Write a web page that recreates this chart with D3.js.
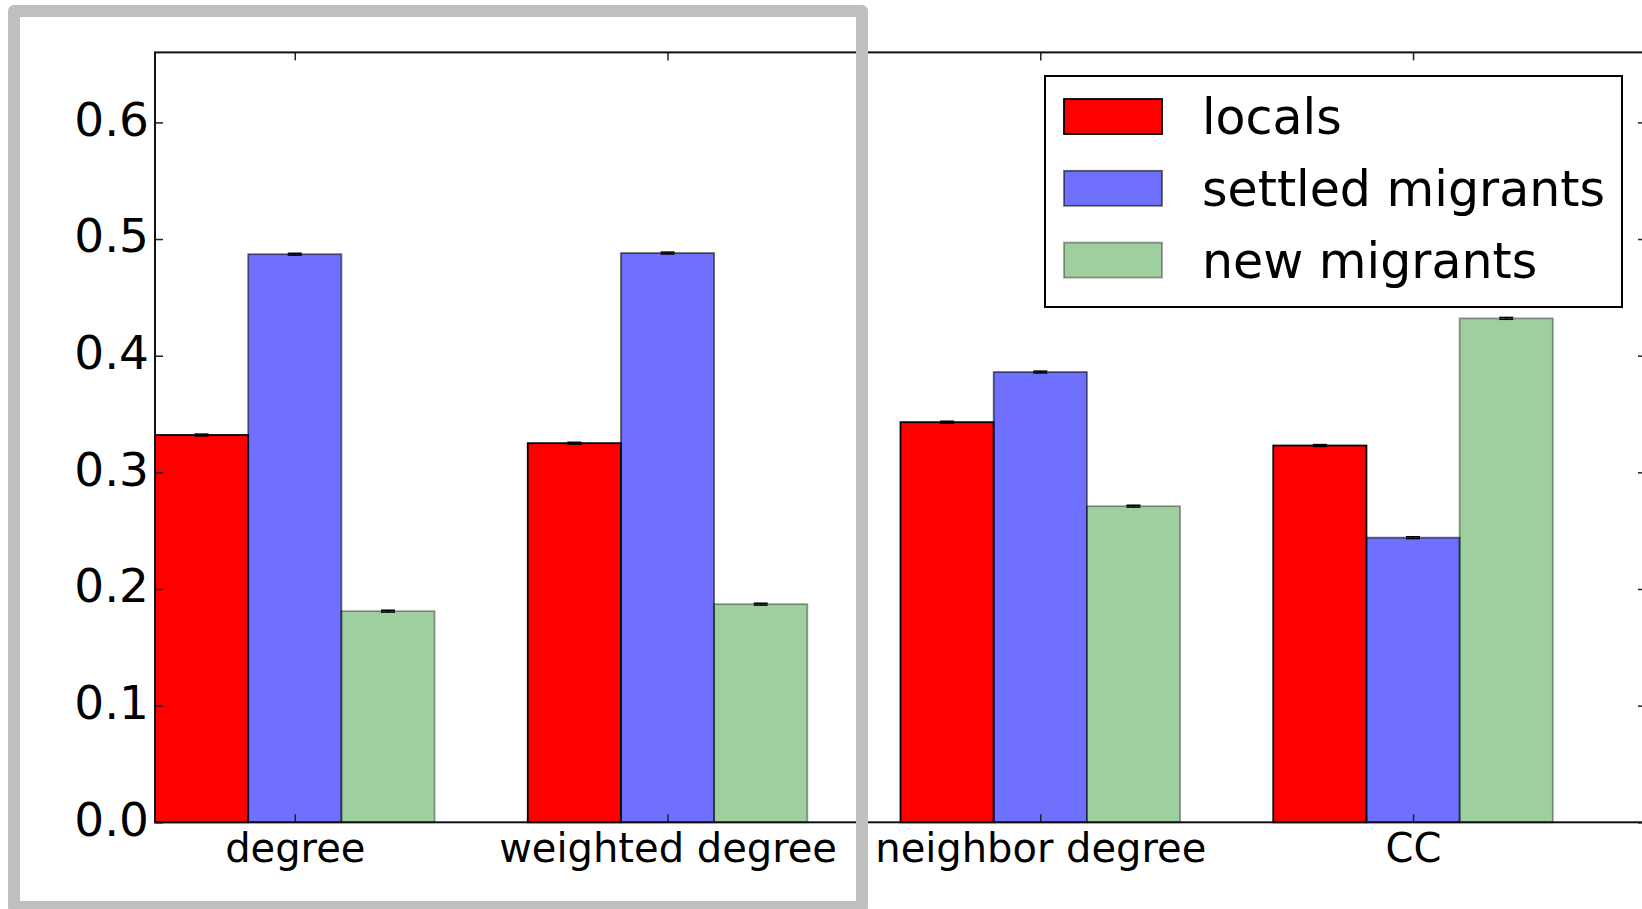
<!DOCTYPE html>
<html>
<head>
<meta charset="utf-8">
<script src="https://cdn.jsdelivr.net/npm/d3@7"></script>
<style>
  html, body { margin: 0; padding: 0; background: #fff; }
  svg { display: block; font-family: "DejaVu Sans", sans-serif; }
</style>
</head>
<body>
<svg id="chart" width="1642" height="909"></svg>
<script>
// Network measures per group
const categories = ["degree", "weighted degree", "neighbor degree", "CC"];
const seriesNames = ["locals", "settled migrants", "new migrants"];
const locals   = [0.332, 0.325, 0.343, 0.323];
const settled  = [0.487, 0.488, 0.386, 0.244];
const newMig   = [0.181, 0.187, 0.271, 0.432];
const errLocals  = [0.0008, 0.0008, 0.0008, 0.0008];
const errSettled = [0.0008, 0.0008, 0.0008, 0.0008];
const errNew     = [0.0008, 0.0008, 0.0008, 0.0008];
const yTicks = [0.0, 0.1, 0.2, 0.3, 0.4, 0.5, 0.6];

const series = [
  { name: seriesNames[0], values: locals,  errs: errLocals,  fill: "#ff0000", fillOpacity: 1,     stroke: "#000", strokeOpacity: 1 },
  { name: seriesNames[1], values: settled, errs: errSettled, fill: "#0000ff", fillOpacity: 0.56,  stroke: "#000", strokeOpacity: 0.56 },
  { name: seriesNames[2], values: newMig,  errs: errNew,     fill: "#008000", fillOpacity: 0.375, stroke: "#000", strokeOpacity: 0.375 }
];

const barW = 0.25;
const svg = d3.select("#chart");

const x = d3.scaleLinear().domain([0, 4]).range([155, 1646]);
const y = d3.scaleLinear().domain([0, 0.66]).range([822.3, 52.4]);

const plot = svg.append("g");

// bars
series.forEach((s, si) => {
  plot.selectAll(null)
    .data(s.values)
    .enter().append("rect")
    .attr("x", (d, i) => x(i + si * barW))
    .attr("width", x(barW) - x(0))
    .attr("y", d => y(d))
    .attr("height", d => y(0) - y(d))
    .attr("fill", s.fill)
    .attr("fill-opacity", s.fillOpacity)
    .attr("stroke", s.stroke)
    .attr("stroke-opacity", s.strokeOpacity)
    .attr("stroke-width", 1.8);
});

// error bars (caps)
series.forEach((s, si) => {
  const cx = i => x(i + si * barW + barW / 2);
  const g = plot.append("g").attr("stroke", "#000").attr("stroke-width", 1.5);
  s.values.forEach((v, i) => {
    const e = s.errs[i];
    g.append("line").attr("x1", cx(i)).attr("x2", cx(i)).attr("y1", y(v - e)).attr("y2", y(v + e));
    [v - e, v + e].forEach(t => {
      g.append("line").attr("x1", cx(i) - 7).attr("x2", cx(i) + 7).attr("y1", y(t)).attr("y2", y(t));
    });
  });
});

// axes
const tickPos = categories.map((c, i) => i + 1.5 * barW);

const yLeft = d3.axisLeft(y).tickValues(yTicks).tickFormat(d3.format(".1f")).tickSizeInner(-8).tickSizeOuter(0).tickPadding(6);
const gL = svg.append("g").attr("transform", `translate(${x(0)},0)`).call(yLeft);
gL.select(".domain").remove();
gL.selectAll("text").attr("font-size", 47).attr("font-family", "DejaVu Sans").attr("fill", "#000").attr("dy", "0.27em");

const yRight = d3.axisRight(y).tickValues(yTicks).tickFormat("").tickSizeInner(-8).tickSizeOuter(0);
const gR = svg.append("g").attr("transform", `translate(${x(4)},0)`).call(yRight);
gR.select(".domain").remove();

const xBottom = d3.axisBottom(x).tickValues(tickPos).tickFormat((d, i) => categories[i]).tickSizeInner(-8).tickSizeOuter(0).tickPadding(11);
const gB = svg.append("g").attr("transform", `translate(0,${y(0)})`).call(xBottom);
gB.select(".domain").remove();
gB.selectAll("text").attr("font-size", 40).attr("font-family", "DejaVu Sans").attr("fill", "#000");

const xTop = d3.axisTop(x).tickValues(tickPos).tickFormat("").tickSizeInner(-8).tickSizeOuter(0);
const gT = svg.append("g").attr("transform", `translate(0,${y(0.66)})`).call(xTop);
gT.select(".domain").remove();

svg.selectAll(".tick line").attr("stroke", "#222").attr("stroke-width", 1.5);

// spines
svg.append("rect")
  .attr("x", x(0)).attr("y", y(0.66))
  .attr("width", x(4) - x(0)).attr("height", y(0) - y(0.66))
  .attr("fill", "none").attr("stroke", "#111").attr("stroke-width", 2);

// legend
const legend = svg.append("g");
legend.append("rect")
  .attr("x", 1045).attr("y", 76).attr("width", 577).attr("height", 231)
  .attr("fill", "#fff").attr("stroke", "#000").attr("stroke-width", 2);
series.forEach((s, si) => {
  const rowY = 134 + si * 71.8;
  legend.append("rect")
    .attr("x", 1064).attr("y", rowY - 35).attr("width", 98).attr("height", 35)
    .attr("fill", s.fill).attr("fill-opacity", s.fillOpacity)
    .attr("stroke", s.stroke).attr("stroke-opacity", s.strokeOpacity).attr("stroke-width", 1.8);
  legend.append("text")
    .attr("x", 1202).attr("y", rowY)
    .attr("font-size", 49).attr("fill", "#000")
    .text(s.name);
});

// highlight frame around the left half
svg.append("rect")
  .attr("x", 14).attr("y", 11).attr("width", 848).attr("height", 896)
  .attr("fill", "none").attr("stroke", "#bfbfbf").attr("stroke-width", 12)
  .attr("stroke-linejoin", "round");
</script>
</body>
</html>
